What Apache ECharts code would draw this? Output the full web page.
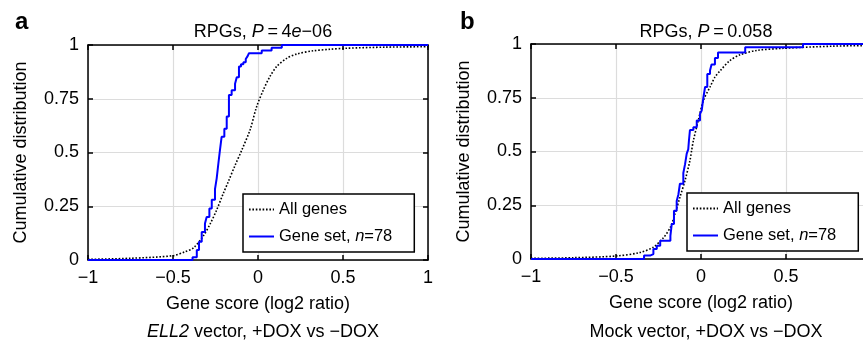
<!DOCTYPE html>
<html>
<head>
<meta charset="utf-8">
<script src="https://cdn.jsdelivr.net/npm/echarts@6/dist/echarts.min.js"></script>
<style>
  html, body { margin: 0; padding: 0; background: #fff; }
  #chart { width: 863px; height: 343px; }
</style>
</head>
<body>
<div id="chart"></div>
<script>
// ticks
var xTicks = [-1, -0.5, 0, 0.5, 1]
var yTicks = [0, 0.25, 0.5, 0.75, 1]

// panel a : ELL2 vector  [gene score, cumulative fraction]
var allGenesA = [
    [-1, 0.003], [-0.75, 0.008], [-0.5, 0.02], [-0.43, 0.038], [-0.38, 0.056], [-0.32, 0.114],
    [-0.28, 0.17], [-0.243, 0.233], [-0.204, 0.31], [-0.175, 0.364], [-0.135, 0.44], [-0.096, 0.51],
    [-0.047, 0.605], [-0.008, 0.713], [0.031, 0.79], [0.07, 0.853], [0.11, 0.9], [0.169, 0.938],
    [0.228, 0.958], [0.325, 0.973], [0.424, 0.98], [0.52, 0.985], [0.75, 0.99], [1, 0.992]
]
var geneSetA = [
    [-1, 0], [-0.385, 0.013], [-0.36, 0.047], [-0.347, 0.085], [-0.331, 0.13], [-0.312, 0.17],
    [-0.302, 0.2], [-0.286, 0.24], [-0.272, 0.28], [-0.253, 0.33], [-0.243, 0.38], [-0.233, 0.45],
    [-0.224, 0.51], [-0.214, 0.573], [-0.198, 0.61], [-0.184, 0.667], [-0.171, 0.767], [-0.155, 0.79],
    [-0.135, 0.82], [-0.125, 0.85], [-0.112, 0.9], [-0.1, 0.91], [-0.086, 0.92], [-0.072, 0.935],
    [-0.061, 0.948], [-0.053, 0.962], [0.022, 0.974], [0.08, 0.987], [0.14, 1], [1, 1]
]
// panel b : Mock vector
var allGenesB = [
    [-1, 0.003], [-0.75, 0.006], [-0.5, 0.014], [-0.36, 0.03], [-0.28, 0.055], [-0.22, 0.1],
    [-0.18, 0.148], [-0.153, 0.21], [-0.124, 0.287], [-0.094, 0.365], [-0.065, 0.458], [-0.055, 0.505],
    [-0.045, 0.55], [-0.016, 0.644], [0.014, 0.737], [0.053, 0.8], [0.082, 0.846], [0.112, 0.875],
    [0.17, 0.923], [0.23, 0.95], [0.327, 0.97], [0.484, 0.98], [0.78, 0.99], [1, 0.993]
]
var geneSetB = [
    [-1, 0], [-0.335, 0.016], [-0.3, 0.023], [-0.28, 0.047], [-0.26, 0.062], [-0.24, 0.085],
    [-0.18, 0.108], [-0.172, 0.163], [-0.159, 0.225], [-0.143, 0.27], [-0.133, 0.3], [-0.124, 0.35],
    [-0.104, 0.4], [-0.094, 0.44], [-0.084, 0.49], [-0.075, 0.51], [-0.071, 0.55], [-0.065, 0.6],
    [-0.045, 0.613], [-0.025, 0.644], [-0.006, 0.675], [0.004, 0.69], [0.014, 0.75], [0.024, 0.8],
    [0.037, 0.86], [0.053, 0.877], [0.062, 0.905], [0.082, 0.935], [0.1, 0.96], [0.26, 0.985],
    [0.6, 1], [1, 1]
]

var FONT = 'Liberation Sans, Arial, sans-serif'
var rich = {
    n: { fontFamily: FONT, fontSize: 18, color: '#000', fontWeight: 'normal' },
    i: { fontFamily: FONT, fontSize: 18, color: '#000', fontWeight: 'normal', fontStyle: 'italic' }
}
var legendRich = {
    n: { fontFamily: FONT, fontSize: 16.5, color: '#000' },
    i: { fontFamily: FONT, fontSize: 16.5, color: '#000', fontStyle: 'italic' }
}

function minus(v) {
    return String(v).replace('-', '\u2212')
}

// 4 axes per grid: bottom/left carry labels, top/right only close the box
function xAxes(gi) {
    return [{
        type: 'value', gridIndex: gi, position: 'bottom', min: -1, max: 1, interval: 0.5,
        name: 'Gene score (log2 ratio)', nameLocation: 'middle', nameGap: 35,
        nameTextStyle: { fontFamily: FONT, fontSize: 18, color: '#000' },
        axisLine: { onZero: false, lineStyle: { color: '#000', width: 1.5 } },
        axisTick: { inside: true, length: 5, lineStyle: { color: '#000', width: 1.5 } },
        axisLabel: { fontFamily: FONT, fontSize: 18, color: '#000', margin: 9, formatter: minus },
        splitLine: { show: true, lineStyle: { color: '#dcdcdc', width: 1.2 } }
    }, {
        type: 'value', gridIndex: gi, position: 'top', min: -1, max: 1, interval: 0.5,
        axisLine: { onZero: false, lineStyle: { color: '#000', width: 1.5 } },
        axisTick: { inside: true, length: 5, lineStyle: { color: '#000', width: 1.5 } },
        axisLabel: { show: false },
        splitLine: { show: false }
    }]
}
function yAxes(gi) {
    return [{
        type: 'value', gridIndex: gi, position: 'left', min: 0, max: 1, interval: 0.25,
        name: 'Cumulative distribution', nameLocation: 'middle', nameGap: 58,
        nameTextStyle: { fontFamily: FONT, fontSize: 18, color: '#000' },
        axisLine: { onZero: false, lineStyle: { color: '#000', width: 1.5 } },
        axisTick: { inside: true, length: 5, lineStyle: { color: '#000', width: 1.5 } },
        axisLabel: { fontFamily: FONT, fontSize: 18, color: '#000', margin: 9 },
        splitLine: { show: true, lineStyle: { color: '#dcdcdc', width: 1.2 } }
    }, {
        type: 'value', gridIndex: gi, position: 'right', min: 0, max: 1, interval: 0.25,
        axisLine: { onZero: false, lineStyle: { color: '#000', width: 1.5 } },
        axisTick: { inside: true, length: 5, lineStyle: { color: '#000', width: 1.5 } },
        axisLabel: { show: false },
        splitLine: { show: false }
    }]
}

function legendFor(left, top) {
    return {
        orient: 'vertical', left: left, top: top,
        padding: [7, 22, 7, 5],
        itemGap: 10, itemWidth: 25, itemHeight: 14,
        borderColor: '#000', borderWidth: 1.5, backgroundColor: '#fff',
        selectedMode: false,
        itemStyle: { color: 'rgba(0,0,0,0)', borderWidth: 0 },
        data: ['All genes', 'Gene set, n=78'],
        formatter: function (name) {
            if (name === 'All genes') return '{n|All genes}'
            return '{n|Gene set, }{i|n}{n|=78}'
        },
        textStyle: { fontFamily: FONT, fontSize: 16.5, lineHeight: 17, rich: legendRich }
    }
}

function cdfSeries(xi, yi, all, set) {
    return [{
        name: 'All genes', type: 'line', xAxisIndex: xi, yAxisIndex: yi,
        data: all, showSymbol: false, symbol: 'none', smooth: 0.3,
        lineStyle: { color: '#000', width: 1.6, type: [1.6, 1.8] },
        itemStyle: { color: '#000' }, z: 3
    }, {
        name: 'Gene set, n=78', type: 'line', xAxisIndex: xi, yAxisIndex: yi,
        data: set, showSymbol: false, symbol: 'none', step: 'end',
        lineStyle: { color: '#0000ff', width: 2 },
        itemStyle: { color: '#0000ff' }, z: 4
    }]
}

var myChart = echarts.init(document.getElementById('chart'), null, { renderer: 'canvas' })
var option = {
    animation: false,
    backgroundColor: '#fff',
    title: [
        { text: 'a', left: 10, top: 5, textStyle: { fontFamily: FONT, fontSize: 24, fontWeight: 'bold', color: '#000' } },
        { text: 'b', left: 455, top: 5, textStyle: { fontFamily: FONT, fontSize: 24, fontWeight: 'bold', color: '#000' } },
        { text: '{n|RPGs, }{i|P}{n|\u2009=\u20094}{i|e}{n|\u221206}', left: 258, top: 18, textAlign: 'center', textStyle: { fontWeight: 'normal', rich: rich } },
        { text: '{n|RPGs, }{i|P}{n|\u2009=\u20090.058}', left: 701, top: 18, textAlign: 'center', textStyle: { fontWeight: 'normal', rich: rich } },
        { text: '{i|ELL2}{n| vector, +DOX vs \u2212DOX}', left: 258, top: 318, textAlign: 'center', textStyle: { fontWeight: 'normal', rich: rich } },
        { text: '{n|Mock vector, +DOX vs \u2212DOX}', left: 701, top: 318, textAlign: 'center', textStyle: { fontWeight: 'normal', rich: rich } }
    ],
    grid: [
        { left: 88, top: 45, width: 340, height: 215, outerBoundsMode: 'none' },
        { left: 531, top: 44, width: 340, height: 215, outerBoundsMode: 'none' }
    ],
    xAxis: xAxes(0).concat(xAxes(1)),
    yAxis: yAxes(0).concat(yAxes(1)),
    legend: [legendFor(243, 194), legendFor(687, 193)],
    series: cdfSeries(0, 0, allGenesA, geneSetA).concat(cdfSeries(2, 2, allGenesB, geneSetB))
}
myChart.setOption(option)
</script>
</body>
</html>
